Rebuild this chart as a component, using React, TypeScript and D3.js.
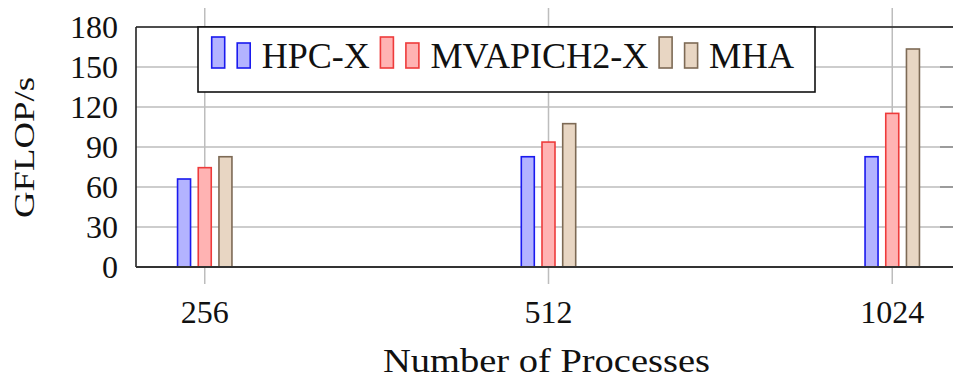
import React from 'react'
import * as d3 from 'd3'

const categories = ['256', '512', '1024']
const seriesNames = ['HPC-X', 'MVAPICH2-X', 'MHA']
const hpcx = [66, 82.7, 82.7]
const mvapich = [74.5, 93.7, 115.2]
const mha = [82.7, 107.5, 163.5]
const yTicks = [0, 30, 60, 90, 120, 150, 180]

const fills = ['#b3b3ff', '#ffb3b3', '#e8d6c3']
const strokes = ['#1a1aee', '#ee3b3b', '#7d6a55']
const legendTextWidths = [108, 218, 85]

const W = 953
const H = 381
const margin = { left: 136, top: 27, right: 961, bottom: 267 }
const serif = '"Liberation Serif", "DejaVu Serif", serif'

export default function App() {
  const series = [hpcx, mvapich, mha]
  const x = d3.scalePoint().domain(categories).range([margin.left, margin.right]).padding(0.2)
  const y = d3.scaleLinear().domain([0, 180]).range([margin.bottom, margin.top])
  const offset = d3.scalePoint().domain(seriesNames).range([-20.7, 20.7])
  const barW = 13

  // legend layout
  let lx = 211.7
  const legendItems = seriesNames.map((name, i) => {
    const item = { name, i, x: lx }
    lx = lx + 50 + legendTextWidths[i] + 10.7
    return item
  })

  return (
    <svg width={W} height={H} style={{ position: 'absolute', left: 0, top: 0, background: '#fff' }}>
      <rect x={0} y={0} width={W} height={H} fill='#fff' />
      {/* horizontal grid */}
      {yTicks.map(t => (
        <line key={`hg-${t}`} x1={margin.left} x2={margin.right} y1={y(t)} y2={y(t)} stroke='#bdbdbd' strokeWidth={1.5} />
      ))}
      {yTicks.map(t => (
        <line key={`rt-${t}`} x1={940} x2={margin.right} y1={y(t)} y2={y(t)} stroke='#8a8a8a' strokeWidth={1.5} />
      ))}
      {/* vertical grid, extended outside */}
      {categories.map(c => (
        <line key={`vg-${c}`} x1={x(c)} x2={x(c)} y1={8} y2={284} stroke='#bdbdbd' strokeWidth={1.5} />
      ))}

      {/* bars */}
      {series.map((vals, si) => vals.map((v, ci) => {
        const cx = (x(categories[ci]) as number) + (offset(seriesNames[si]) as number)
        return (
          <rect key={`b-${si}-${ci}`} x={cx - barW / 2} y={y(v)} width={barW} height={y(0) - y(v)}
            fill={fills[si]} stroke={strokes[si]} strokeWidth={1.6} />
        )
      }))}

      {/* axes frame */}
      <line x1={margin.left} x2={margin.left} y1={margin.top} y2={margin.bottom} stroke='#222' strokeWidth={1.6} />
      <line x1={margin.left} x2={margin.right} y1={margin.top} y2={margin.top} stroke='#222' strokeWidth={1.6} />
      <line x1={margin.left} x2={margin.right} y1={margin.bottom} y2={margin.bottom} stroke='#333' strokeWidth={2.2} />

      {/* y tick labels */}
      {yTicks.map(t => (
        <text key={`yl-${t}`} x={118} y={y(t)} dy='0.33em' textAnchor='end' fontFamily={serif} fontSize={32} fill='#111'>{t}</text>
      ))}
      {/* x tick labels */}
      {categories.map(c => (
        <text key={`xl-${c}`} x={x(c)} y={323} textAnchor='middle' fontFamily={serif} fontSize={32} fill='#111'>{c}</text>
      ))}

      {/* axis titles */}
      <text x={546.5} y={372} textAnchor='middle' fontFamily={serif} fontSize={34} fill='#111'
        textLength={327} lengthAdjust='spacingAndGlyphs'>Number of Processes</text>
      <text transform='translate(34,147.5) rotate(-90)' textAnchor='middle' fontFamily={serif} fontSize={29} fill='#111'
        textLength={141} lengthAdjust='spacingAndGlyphs'>GFLOP/s</text>

      {/* legend */}
      <rect x={198} y={27} width={617} height={65} fill='#fff' stroke='#111' strokeWidth={1.6} />
      {legendItems.map(it => (
        <g key={`lg-${it.name}`}>
          <rect x={it.x} y={37} width={13} height={31} fill={fills[it.i]} stroke={strokes[it.i]} strokeWidth={1.6} />
          <rect x={it.x + 25.5} y={43} width={13} height={25} fill={fills[it.i]} stroke={strokes[it.i]} strokeWidth={1.6} />
          <text x={it.x + 50} y={68} fontFamily={serif} fontSize={36} fill='#111'
            textLength={legendTextWidths[it.i]} lengthAdjust='spacingAndGlyphs'>{it.name}</text>
        </g>
      ))}
    </svg>
  )
}
